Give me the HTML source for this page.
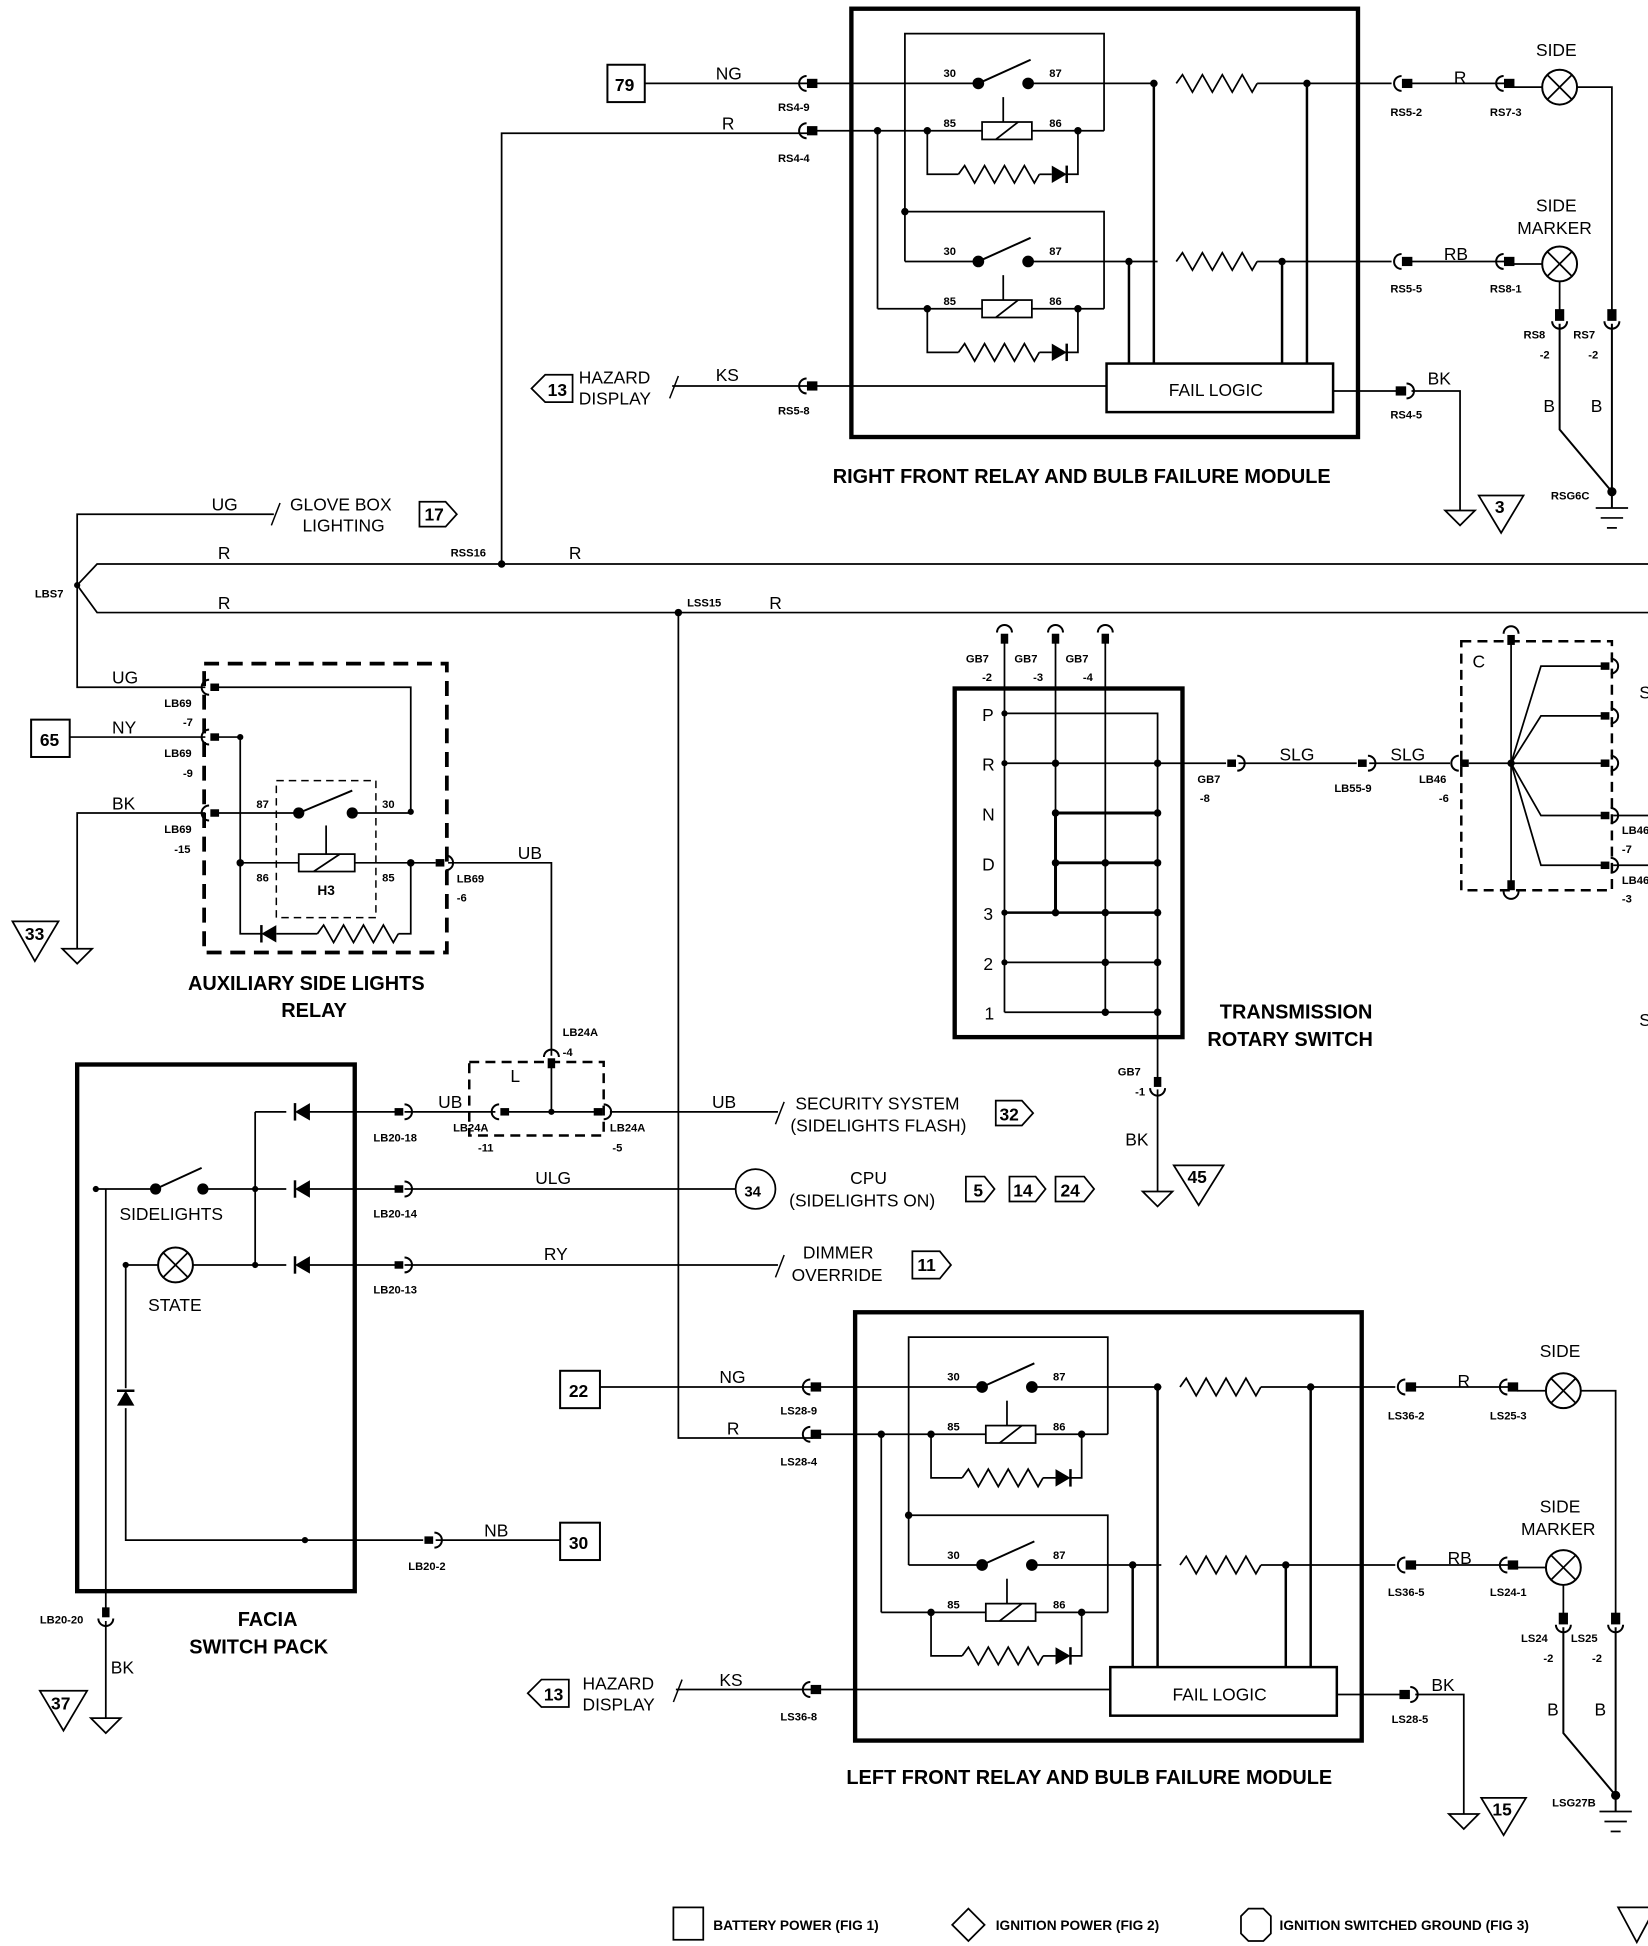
<!DOCTYPE html>
<html><head><meta charset="utf-8"><style>
html,body{margin:0;padding:0;background:#fff}
svg{display:block}
text{font-family:"Liberation Sans",Arial,sans-serif;fill:#000}
.w{font-size:14px}
.c{font-size:9px;font-weight:bold}
.t{font-size:16px;font-weight:bold}
.l{font-size:14px}
.n{font-size:9px;font-weight:bold}
</style></head><body>
<svg width="1648" height="1946" viewBox="0 0 1324 1563" preserveAspectRatio="none" xmlns="http://www.w3.org/2000/svg">
<defs>
<g id="cL"><path d="M-2,-6 A6,6 0 0 0 -2,6" fill="none" stroke="#000" stroke-width="1.6"/><rect x="-1" y="-3" width="7" height="6" fill="#000"/></g>
<g id="cR"><path d="M2,-6 A6,6 0 0 1 2,6" fill="none" stroke="#000" stroke-width="1.6"/><rect x="-6" y="-3" width="7" height="6" fill="#000"/></g>
<g id="cD"><rect x="-3" y="-7" width="6" height="8" fill="#000"/><path d="M-6,2 A6,6 0 0 0 6,2" fill="none" stroke="#000" stroke-width="1.6"/></g>
<g id="cU"><path d="M-6,-2 A6,6 0 0 1 6,-2" fill="none" stroke="#000" stroke-width="1.6"/><rect x="-3" y="-1" width="6" height="8" fill="#000"/></g>
<path id="res" d="M0,0 l5,-7 l8,14 l8,-14 l8,14 l8,-14 l8,14 l8,-14 l8,14 l4,-7" fill="none" stroke="#000" stroke-width="1.4"/>
<g id="dR"><polygon points="0,-7 0,7 12,0" fill="#000" stroke="none"/><line x1="12" y1="-7" x2="12" y2="7" stroke="#000" stroke-width="2"/></g>
<g id="dL"><polygon points="12,-7 12,7 0,0" fill="#000" stroke="none"/><line x1="0" y1="-7" x2="0" y2="7" stroke="#000" stroke-width="2"/></g>
<g id="lamp"><circle r="14" fill="#fff" stroke="#000" stroke-width="1.6"/><line x1="-10" y1="-10" x2="10" y2="10" stroke="#000" stroke-width="1.4"/><line x1="10" y1="-10" x2="-10" y2="10" stroke="#000" stroke-width="1.4"/></g>
<g id="gnd"><path d="M-12,0 H12 L0,12 Z" fill="#fff" stroke="#000" stroke-width="1.4"/></g>
<g id="relay" fill="none" stroke="#000" stroke-width="1.4">
<circle cx="786" cy="67" r="4" fill="#000"/><circle cx="826" cy="67" r="4" fill="#000"/>
<line x1="786" y1="67" x2="828" y2="48" stroke-width="1.6"/>
<line x1="806" y1="78" x2="806" y2="98"/>
<rect x="789" y="98" width="40" height="14"/><line x1="800" y1="112" x2="818" y2="98"/>
<line x1="829" y1="105" x2="887" y2="105"/>
<polyline points="745,105 745,140 770,140"/>
<use href="#res" x="770" y="140"/>
<line x1="835" y1="140" x2="845" y2="140"/><use href="#dR" x="845" y="140"/>
<polyline points="857,140 866,140 866,105"/>
</g>
<g id="module" fill="none" stroke="#000" stroke-width="1.4">
<rect x="684" y="7" width="407" height="344" stroke-width="3.5"/>
<use href="#relay"/>
<use href="#relay" y="143"/>
<line x1="655" y1="67" x2="786" y2="67"/>
<line x1="655" y1="105" x2="789" y2="105"/>
<line x1="727" y1="210" x2="786" y2="210"/>
<line x1="705" y1="248" x2="789" y2="248"/>
<polyline points="887,105 887,27 727,27 727,170 887,170 887,248"/>
<line x1="727" y1="170" x2="727" y2="210"/>
<line x1="705" y1="105" x2="705" y2="248"/>
<line x1="826" y1="67" x2="1118" y2="67"/>
<line x1="826" y1="210" x2="1118" y2="210"/>
<rect x="930" y="58" width="80" height="18" fill="#fff" stroke="none"/>
<rect x="930" y="201" width="80" height="18" fill="#fff" stroke="none"/>
<use href="#res" x="945" y="67"/><use href="#res" x="945" y="210"/>
<line x1="907" y1="210" x2="907" y2="292" stroke-width="2"/>
<line x1="927" y1="67" x2="927" y2="292" stroke-width="2"/>
<line x1="1030" y1="210" x2="1030" y2="292" stroke-width="2"/>
<line x1="1050" y1="67" x2="1050" y2="292" stroke-width="2"/>
<rect x="889" y="292" width="182" height="39" fill="#fff" stroke-width="2"/>
<line x1="655" y1="310" x2="889" y2="310"/>
<line x1="1071" y1="314" x2="1123" y2="314"/>
<g fill="#000" stroke="none">
<circle cx="727" cy="170" r="3"/><circle cx="705" cy="105" r="3"/><circle cx="745" cy="105" r="3"/><circle cx="866" cy="105" r="3"/>
<circle cx="745" cy="248" r="3"/><circle cx="866" cy="248" r="3"/>
<circle cx="927" cy="67" r="3"/><circle cx="1050" cy="67" r="3"/><circle cx="907" cy="210" r="3"/><circle cx="1030" cy="210" r="3"/>
</g>
<use href="#cL" x="650" y="67"/>
<use href="#cL" x="650" y="105"/>
<use href="#cL" x="650" y="310"/>
<use href="#cL" x="1128" y="67"/>
<use href="#cL" x="1128" y="210"/>
<use href="#cR" x="1128" y="314"/>
<line x1="1134" y1="67" x2="1210" y2="67"/>
<line x1="1134" y1="210" x2="1210" y2="210"/>
<use href="#cL" x="1210" y="67"/>
<use href="#cL" x="1210" y="210"/>
<line x1="1216" y1="70" x2="1240" y2="70"/>
<line x1="1216" y1="212" x2="1240" y2="212"/>
<use href="#lamp" x="1253" y="70"/><use href="#lamp" x="1253" y="212"/>
<polyline points="1267,70 1295,70 1295,250"/>
<line x1="1253" y1="226" x2="1253" y2="250"/>
<use href="#cD" x="1253" y="256"/>
<use href="#cD" x="1295" y="256"/>
<polyline points="1253,260 1253,345 1295,395" stroke-width="1.6"/>
<line x1="1295" y1="260" x2="1295" y2="408" stroke-width="1.6"/>
<circle cx="1295" cy="395" r="3" fill="#000"/>
<line x1="1282" y1="408" x2="1308" y2="408"/><line x1="1286" y1="416" x2="1304" y2="416"/><line x1="1291" y1="424" x2="1299" y2="424"/>
<polyline points="1134,314 1173,314 1173,410"/>
<use href="#gnd" x="1173" y="410"/>
</g>
</defs>

<!-- Right front module -->
<use href="#module"/>
<g>
<text class="n" x="758" y="62">30</text><text class="n" x="843" y="62">87</text>
<text class="n" x="758" y="102">85</text><text class="n" x="843" y="102">86</text>
<text class="n" x="758" y="205">30</text><text class="n" x="843" y="205">87</text>
<text class="n" x="758" y="245">85</text><text class="n" x="843" y="245">86</text>
<text class="l" x="939" y="318">FAIL LOGIC</text>
<text class="c" x="625" y="89">RS4-9</text><text class="c" x="625" y="130">RS4-4</text><text class="c" x="625" y="333">RS5-8</text>
<text class="c" x="1117" y="93">RS5-2</text><text class="c" x="1197" y="93">RS7-3</text>
<text class="c" x="1117" y="235">RS5-5</text><text class="c" x="1197" y="235">RS8-1</text>
<text class="c" x="1117" y="336">RS4-5</text>
<text class="w" x="1168" y="67">R</text><text class="w" x="1160" y="209">RB</text><text class="w" x="1147" y="309">BK</text>
<text class="l" x="1234" y="45">SIDE</text>
<text class="l" x="1234" y="170">SIDE</text><text class="l" x="1219" y="188">MARKER</text>
<text class="c" x="1224" y="272">RS8</text><text class="c" x="1264" y="272">RS7</text>
<text class="c" x="1237" y="288">-2</text><text class="c" x="1276" y="288">-2</text>
<text class="w" x="1240" y="331">B</text><text class="w" x="1278" y="331">B</text>
<text class="c" x="1246" y="401">RSG6C</text>
<text class="t" x="669" y="388">RIGHT FRONT RELAY AND BULB FAILURE MODULE</text>
</g>
<path d="M1188,398 H1224 L1206,428 Z" fill="#fff" stroke="#000" stroke-width="1.4"/><text class="w" x="1201" y="412" font-weight="bold">3</text>

<!-- top left inputs -->
<rect x="488" y="52" width="30" height="30" fill="#fff" stroke="#000" stroke-width="1.6"/><text class="w" x="494" y="73" font-weight="bold">79</text>
<line x1="518" y1="67" x2="650" y2="67" stroke="#000" stroke-width="1.4"/>
<text class="w" x="575" y="64">NG</text>
<polyline points="403,453 403,107 650,107" fill="none" stroke="#000" stroke-width="1.4"/>
<text class="w" x="580" y="104">R</text>
<line x1="540" y1="310" x2="650" y2="310" stroke="#000" stroke-width="1.4"/>
<line x1="538" y1="320" x2="545" y2="302" stroke="#000" stroke-width="1.2"/>
<text class="w" x="575" y="306">KS</text>
<text class="l" x="465" y="308">HAZARD</text><text class="l" x="465" y="325">DISPLAY</text>
<path d="M427,312 L438,301 H460 V323 H438 Z" fill="#fff" stroke="#000" stroke-width="1.4"/><text class="w" x="440" y="318" font-weight="bold">13</text>

<!-- Left front module -->
<use href="#module" x="3" y="1047"/>
<g>
<text class="n" x="761" y="1109">30</text><text class="n" x="846" y="1109">87</text>
<text class="n" x="761" y="1149">85</text><text class="n" x="846" y="1149">86</text>
<text class="n" x="761" y="1252">30</text><text class="n" x="846" y="1252">87</text>
<text class="n" x="761" y="1292">85</text><text class="n" x="846" y="1292">86</text>
<text class="l" x="942" y="1366">FAIL LOGIC</text>
<text class="c" x="627" y="1136">LS28-9</text><text class="c" x="627" y="1177">LS28-4</text><text class="c" x="627" y="1382">LS36-8</text>
<text class="c" x="1115" y="1140">LS36-2</text><text class="c" x="1197" y="1140">LS25-3</text>
<text class="c" x="1115" y="1282">LS36-5</text><text class="c" x="1197" y="1282">LS24-1</text>
<text class="c" x="1118" y="1384">LS28-5</text>
<text class="w" x="1171" y="1114">R</text><text class="w" x="1163" y="1256">RB</text><text class="w" x="1150" y="1358">BK</text>
<text class="l" x="1237" y="1090">SIDE</text>
<text class="l" x="1237" y="1215">SIDE</text><text class="l" x="1222" y="1233">MARKER</text>
<text class="c" x="1222" y="1319">LS24</text><text class="c" x="1262" y="1319">LS25</text>
<text class="c" x="1240" y="1335">-2</text><text class="c" x="1279" y="1335">-2</text>
<text class="w" x="1243" y="1378">B</text><text class="w" x="1281" y="1378">B</text>
<text class="c" x="1247" y="1451">LSG27B</text>
<text class="t" x="680" y="1433">LEFT FRONT RELAY AND BULB FAILURE MODULE</text>
</g>
<path d="M1190,1444 H1226 L1208,1474 Z" fill="#fff" stroke="#000" stroke-width="1.4"/><text class="w" x="1199" y="1458" font-weight="bold">15</text>
<rect x="450" y="1101" width="32" height="30" fill="#fff" stroke="#000" stroke-width="1.6"/><text class="w" x="457" y="1122" font-weight="bold">22</text>
<line x1="482" y1="1114" x2="653" y2="1114" stroke="#000" stroke-width="1.4"/>
<text class="w" x="578" y="1111">NG</text>
<polyline points="545,492 545,1155 653,1155" fill="none" stroke="#000" stroke-width="1.4"/>
<text class="w" x="584" y="1152">R</text>
<line x1="543" y1="1357" x2="653" y2="1357" stroke="#000" stroke-width="1.4"/>
<line x1="541" y1="1367" x2="548" y2="1349" stroke="#000" stroke-width="1.2"/>
<text class="w" x="578" y="1354">KS</text>
<text class="l" x="468" y="1357">HAZARD</text><text class="l" x="468" y="1374">DISPLAY</text>
<path d="M424,1360 L435,1349 H457 V1371 H435 Z" fill="#fff" stroke="#000" stroke-width="1.4"/><text class="w" x="437" y="1366" font-weight="bold">13</text>

<!-- bus -->
<g fill="none" stroke="#000" stroke-width="1.4">
<polyline points="1324,453 78,453 62,470 78,492 1324,492"/>
<polyline points="220,413 62,413 62,552 165,552"/>
<line x1="218" y1="422" x2="225" y2="404" stroke-width="1.2"/>
</g>
<circle cx="62" cy="470" r="2.5"/><circle cx="403" cy="453" r="3"/><circle cx="545" cy="492" r="3"/>
<text class="c" x="28" y="480">LBS7</text><text class="c" x="362" y="447">RSS16</text><text class="c" x="552" y="487">LSS15</text>
<text class="w" x="175" y="449">R</text><text class="w" x="175" y="489">R</text><text class="w" x="457" y="449">R</text><text class="w" x="618" y="489">R</text>
<text class="w" x="170" y="410">UG</text>
<text class="l" x="233" y="410">GLOVE BOX</text><text class="l" x="243" y="427">LIGHTING</text>
<path d="M337,403 H358 L367,413 L358,423 H337 Z" fill="#fff" stroke="#000" stroke-width="1.4"/><text class="w" x="341" y="418" font-weight="bold">17</text>

<!-- Auxiliary relay -->
<g fill="none" stroke="#000">
<rect x="164" y="533" width="195" height="232" stroke-width="3" stroke-dasharray="12,7"/>
<rect x="222" y="627" width="80" height="110" stroke-width="1.2" stroke-dasharray="6,4"/>
<g stroke-width="1.4">
<polyline points="170,552 330,552 330,652"/>
<polyline points="56,592 165,592"/><polyline points="170,592 193,592 193,750 210,750"/>
<polyline points="62,762 62,653 165,653"/><line x1="170" y1="653" x2="240" y2="653"/>
<line x1="283" y1="653" x2="330" y2="653"/>
<line x1="193" y1="693" x2="240" y2="693"/><rect x="240" y="686" width="45" height="14"/><line x1="252" y1="700" x2="273" y2="686"/>
<line x1="262" y1="663" x2="262" y2="686"/>
<line x1="285" y1="693" x2="350" y2="693"/>
<polyline points="360,693 443,693 443,848"/>
<polyline points="222,750 255,750"/><polyline points="320,750 330,750 330,693"/>
<line x1="240" y1="653" x2="283" y2="635" stroke-width="1.6"/>
</g>
</g>
<use href="#res" x="255" y="750"/>
<use href="#dL" x="210" y="750"/>
<circle cx="240" cy="653" r="4.5"/><circle cx="283" cy="653" r="4.5"/>
<circle cx="193" cy="592" r="2.5"/><circle cx="193" cy="693" r="3"/><circle cx="330" cy="693" r="3"/><circle cx="330" cy="652" r="2.5"/>
<use href="#cL" x="170" y="552"/><use href="#cL" x="170" y="592"/><use href="#cL" x="170" y="653"/><use href="#cR" x="356" y="693"/>
<text class="w" x="90" y="549">UG</text><text class="w" x="90" y="589">NY</text><text class="w" x="90" y="650">BK</text><text class="w" x="416" y="690">UB</text>
<text class="c" x="132" y="568">LB69</text><text class="c" x="147" y="583">-7</text>
<text class="c" x="132" y="608">LB69</text><text class="c" x="147" y="624">-9</text>
<text class="c" x="132" y="669">LB69</text><text class="c" x="140" y="685">-15</text>
<text class="c" x="367" y="709">LB69</text><text class="c" x="367" y="724">-6</text>
<text class="n" x="206" y="649">87</text><text class="n" x="307" y="649">30</text>
<text class="n" x="206" y="708">86</text><text class="n" x="307" y="708">85</text>
<text class="c" x="255" y="719" style="font-size:11px">H3</text>
<text class="t" x="151" y="795">AUXILIARY SIDE LIGHTS</text><text class="t" x="226" y="817">RELAY</text>
<rect x="25" y="578" width="31" height="30" fill="#fff" stroke="#000" stroke-width="1.6"/><text class="w" x="32" y="599" font-weight="bold">65</text>
<use href="#gnd" x="62" y="762"/>
<path d="M10,740 H47 L28,772 Z" fill="#fff" stroke="#000" stroke-width="1.4"/><text class="w" x="20" y="755" font-weight="bold">33</text>

<!-- L block -->
<rect x="377" y="853" width="108" height="59" fill="none" stroke="#000" stroke-width="2" stroke-dasharray="8,5"/>
<g fill="none" stroke="#000" stroke-width="1.4">
<line x1="205" y1="893" x2="320" y2="893"/><line x1="325" y1="893" x2="398" y2="893"/>
<line x1="405" y1="893" x2="480" y2="893"/><line x1="443" y1="855" x2="443" y2="893"/>
<line x1="490" y1="893" x2="625" y2="893"/><line x1="623" y1="903" x2="630" y2="885" stroke-width="1.2"/>
<polyline points="205,1016 205,893"/>
<line x1="205" y1="955" x2="320" y2="955"/><line x1="325" y1="955" x2="592" y2="955"/>
<line x1="155" y1="1016" x2="320" y2="1016"/><line x1="325" y1="1016" x2="625" y2="1016"/>
<line x1="623" y1="1026" x2="630" y2="1008" stroke-width="1.2"/>
<line x1="77" y1="955" x2="125" y2="955"/><line x1="163" y1="955" x2="205" y2="955"/>
<line x1="125" y1="955" x2="162" y2="938" stroke-width="1.6"/>
<polyline points="101,1016 127,1016"/>
<polyline points="101,1016 101,1237 340,1237"/><line x1="350" y1="1237" x2="450" y2="1237"/>
<line x1="85" y1="955" x2="85" y2="1293"/><line x1="85" y1="1302" x2="85" y2="1380"/>
<rect x="62" y="855" width="223" height="423" stroke-width="3.5"/>
</g>
<rect x="230" y="885" width="16" height="16" fill="#fff"/><use href="#dL" x="237" y="893"/>
<rect x="230" y="947" width="16" height="16" fill="#fff"/><use href="#dL" x="237" y="955"/>
<rect x="230" y="1008" width="16" height="16" fill="#fff"/><use href="#dL" x="237" y="1016"/>
<g transform="translate(101,1129) rotate(-90)"><rect x="-2" y="-8" width="16" height="16" fill="#fff"/><polygon points="0,-7 0,7 12,0"/><line x1="12" y1="-7" x2="12" y2="7" stroke="#000" stroke-width="2"/></g>
<use href="#lamp" x="141" y="1016"/>
<circle cx="125" cy="955" r="4.5"/><circle cx="163" cy="955" r="4.5"/><circle cx="77" cy="955" r="2.5"/>
<circle cx="205" cy="955" r="2.5"/><circle cx="205" cy="1016" r="2.5"/><circle cx="101" cy="1016" r="2.5"/><circle cx="245" cy="1237" r="2.5"/><circle cx="443" cy="893" r="2.5"/>
<use href="#cR" x="323" y="893"/><use href="#cR" x="323" y="955"/><use href="#cR" x="323" y="1016"/><use href="#cR" x="347" y="1237"/>
<use href="#cL" x="403" y="893"/><use href="#cR" x="483" y="893"/><use href="#cU" x="443" y="851"/><use href="#cD" x="85" y="1298"/>
<text class="c" x="300" y="917">LB20-18</text><text class="c" x="300" y="978">LB20-14</text><text class="c" x="300" y="1039">LB20-13</text><text class="c" x="328" y="1261">LB20-2</text>
<text class="c" x="32" y="1304">LB20-20</text>
<text class="c" x="452" y="832">LB24A</text><text class="c" x="452" y="848">-4</text>
<text class="c" x="364" y="909">LB24A</text><text class="c" x="384" y="925">-11</text>
<text class="c" x="490" y="909">LB24A</text><text class="c" x="492" y="925">-5</text>
<text class="w" x="410" y="869">L</text>
<text class="w" x="352" y="890">UB</text><text class="w" x="572" y="890">UB</text><text class="w" x="430" y="951">ULG</text><text class="w" x="437" y="1012">RY</text><text class="w" x="389" y="1234">NB</text>
<text class="w" x="89" y="1344">BK</text>
<text class="l" x="96" y="980">SIDELIGHTS</text><text class="l" x="119" y="1053">STATE</text>
<text class="t" x="191" y="1306">FACIA</text><text class="t" x="152" y="1328">SWITCH PACK</text>
<text class="l" x="639" y="891">SECURITY SYSTEM</text><text class="l" x="635" y="909">(SIDELIGHTS FLASH)</text>
<path d="M800,884 H821 L830,894 L821,904 H800 Z" fill="#fff" stroke="#000" stroke-width="1.4"/><text class="w" x="803" y="900" font-weight="bold">32</text>
<circle cx="607" cy="955" r="16" fill="#fff" stroke="#000" stroke-width="1.4"/><text class="w" x="598" y="961" font-weight="bold" style="font-size:12px">34</text>
<text class="l" x="683" y="951">CPU</text><text class="l" x="634" y="969">(SIDELIGHTS ON)</text>
<path d="M776,945 H791 L799,955 L791,965 H776 Z" fill="#fff" stroke="#000" stroke-width="1.4"/><text class="w" x="782" y="961" font-weight="bold">5</text>
<path d="M811,945 H832 L840,955 L832,965 H811 Z" fill="#fff" stroke="#000" stroke-width="1.4"/><text class="w" x="814" y="961" font-weight="bold">14</text>
<path d="M848,945 H871 L879,955 L871,965 H848 Z" fill="#fff" stroke="#000" stroke-width="1.4"/><text class="w" x="852" y="961" font-weight="bold">24</text>
<text class="l" x="645" y="1011">DIMMER</text><text class="l" x="636" y="1029">OVERRIDE</text>
<path d="M733,1005 H755 L764,1016 L755,1027 H733 Z" fill="#fff" stroke="#000" stroke-width="1.4"/><text class="w" x="737" y="1021" font-weight="bold">11</text>
<rect x="450" y="1223" width="32" height="30" fill="#fff" stroke="#000" stroke-width="1.6"/><text class="w" x="457" y="1244" font-weight="bold">30</text>
<use href="#gnd" x="85" y="1380"/>
<path d="M32,1358 H70 L51,1390 Z" fill="#fff" stroke="#000" stroke-width="1.4"/><text class="w" x="41" y="1373" font-weight="bold">37</text>

<!-- Transmission -->
<g fill="none" stroke="#000" stroke-width="1.4">
<line x1="807" y1="512" x2="807" y2="813"/><line x1="848" y1="512" x2="848" y2="733"/><line x1="888" y1="512" x2="888" y2="813"/>
<polyline points="807,573 930,573 930,865"/>
<line x1="807" y1="613" x2="985" y2="613"/>
<line x1="848" y1="653" x2="930" y2="653" stroke-width="2.4"/>
<line x1="848" y1="693" x2="930" y2="693" stroke-width="2.4"/>
<line x1="807" y1="733" x2="930" y2="733" stroke-width="2"/>
<line x1="807" y1="773" x2="930" y2="773"/>
<line x1="807" y1="813" x2="930" y2="813"/>
<line x1="848" y1="653" x2="848" y2="733" stroke-width="2.4"/>
<rect x="767" y="553" width="183" height="280" stroke-width="3.5"/>
<line x1="995" y1="613" x2="1090" y2="613"/><line x1="1100" y1="613" x2="1165" y2="613"/>
<line x1="930" y1="875" x2="930" y2="957"/>
</g>
<g>
<circle cx="807" cy="573" r="2.5"/><circle cx="807" cy="613" r="2.5"/><circle cx="848" cy="613" r="3"/><circle cx="930" cy="613" r="3"/>
<circle cx="848" cy="653" r="3"/><circle cx="930" cy="653" r="3"/><circle cx="848" cy="693" r="3"/><circle cx="888" cy="693" r="3"/><circle cx="930" cy="693" r="3"/>
<circle cx="807" cy="733" r="2.5"/><circle cx="848" cy="733" r="3"/><circle cx="888" cy="733" r="3"/><circle cx="930" cy="733" r="3"/>
<circle cx="807" cy="773" r="2.5"/><circle cx="888" cy="773" r="3"/><circle cx="930" cy="773" r="3"/>
<circle cx="888" cy="813" r="3"/><circle cx="930" cy="813" r="3"/>
</g>
<use href="#cU" x="807" y="510"/><use href="#cU" x="848" y="510"/><use href="#cU" x="888" y="510"/>
<use href="#cR" x="992" y="613"/><use href="#cR" x="1097" y="613"/><use href="#cL" x="1174" y="613"/><use href="#cD" x="930" y="872"/>
<text class="c" x="776" y="532">GB7</text><text class="c" x="789" y="547">-2</text>
<text class="c" x="815" y="532">GB7</text><text class="c" x="830" y="547">-3</text>
<text class="c" x="856" y="532">GB7</text><text class="c" x="870" y="547">-4</text>
<text class="l" x="789" y="579">P</text><text class="l" x="789" y="619">R</text><text class="l" x="789" y="659">N</text><text class="l" x="789" y="699">D</text><text class="l" x="790" y="739">3</text><text class="l" x="790" y="779">2</text><text class="l" x="791" y="819">1</text>
<text class="c" x="962" y="629">GB7</text><text class="c" x="964" y="644">-8</text>
<text class="c" x="1072" y="636">LB55-9</text><text class="c" x="1140" y="629">LB46</text><text class="c" x="1156" y="644">-6</text>
<text class="w" x="1028" y="611">SLG</text><text class="w" x="1117" y="611">SLG</text>
<text class="t" x="980" y="818">TRANSMISSION</text><text class="t" x="970" y="840">ROTARY SWITCH</text>
<text class="c" x="898" y="864">GB7</text><text class="c" x="912" y="880">-1</text>
<text class="w" x="904" y="920">BK</text>
<use href="#gnd" x="930" y="957"/>
<path d="M943,936 H983 L963,968 Z" fill="#fff" stroke="#000" stroke-width="1.4"/><text class="w" x="954" y="950" font-weight="bold">45</text>

<!-- C block -->
<rect x="1174" y="515" width="121" height="200" fill="none" stroke="#000" stroke-width="2" stroke-dasharray="8,5"/>
<g fill="none" stroke="#000" stroke-width="1.4">
<line x1="1214" y1="514" x2="1214" y2="712"/>
<line x1="1180" y1="613" x2="1290" y2="613"/>
<polyline points="1214,613 1238,535 1288,535"/>
<polyline points="1214,613 1238,575 1288,575"/>
<polyline points="1214,613 1238,655 1288,655"/>
<polyline points="1214,613 1238,695 1288,695"/>
<line x1="1296" y1="655" x2="1324" y2="655"/><line x1="1296" y1="695" x2="1324" y2="695"/>
</g>
<circle cx="1214" cy="613" r="3"/>
<use href="#cU" x="1214" y="511"/><use href="#cD" x="1214" y="714"/>
<use href="#cR" x="1292" y="535"/><use href="#cR" x="1292" y="575"/><use href="#cR" x="1292" y="613"/><use href="#cR" x="1292" y="655"/><use href="#cR" x="1292" y="695"/>
<text class="w" x="1183" y="536">C</text>
<text class="c" x="1303" y="670">LB46</text><text class="c" x="1303" y="685">-7</text>
<text class="c" x="1303" y="710">LB46</text><text class="c" x="1303" y="725">-3</text>
<text class="l" x="1317" y="561">S</text><text class="l" x="1317" y="824">S</text>

<!-- Legend -->
<rect x="541" y="1532" width="24" height="26" fill="#fff" stroke="#000" stroke-width="1.4"/>
<text class="c" x="573" y="1550" style="font-size:11px">BATTERY POWER (FIG 1)</text>
<path d="M778,1533 L791,1546 L778,1559 L765,1546 Z" fill="#fff" stroke="#000" stroke-width="1.4"/>
<text class="c" x="800" y="1550" style="font-size:11px">IGNITION POWER (FIG 2)</text>
<path d="M1003,1533 H1015 L1021,1539 V1553 L1015,1559 H1003 L997,1553 V1539 Z" fill="#fff" stroke="#000" stroke-width="1.4"/>
<text class="c" x="1028" y="1550" style="font-size:11px">IGNITION SWITCHED GROUND (FIG 3)</text>
<path d="M1300,1532 H1330 L1315,1560 Z" fill="#fff" stroke="#000" stroke-width="1.4"/>
</svg>
</body></html>
